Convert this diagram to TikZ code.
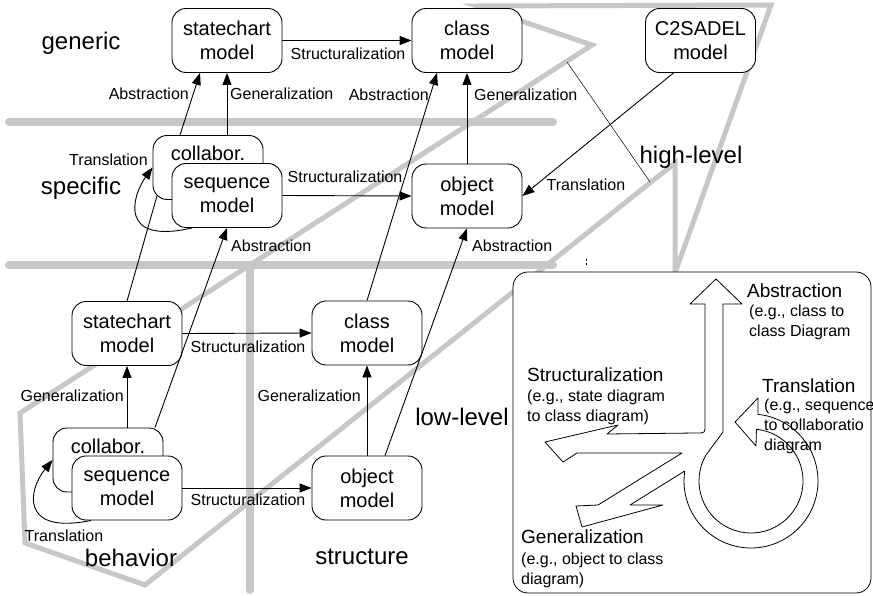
\documentclass[tikz,border=0pt]{standalone}
\usepackage{fontspec}
\setmainfont{Liberation Sans}
\usetikzlibrary{positioning,arrows.meta,calc}

\begin{document}
\begin{tikzpicture}[x=1pt, y=-1pt,
  model/.style={draw, fill=white, rounded corners=14pt, line width=0.9pt,
    minimum width=110pt, minimum height=64pt, align=center, inner sep=2pt,
    font=\fontsize{20}{24}\selectfont},
  lbl/.style={inner sep=0pt, font=\fontsize{16}{19}\selectfont},
  realm/.style={inner sep=0pt, font=\fontsize{24}{28}\selectfont},
  head/.style={inner sep=0pt, anchor=west, font=\fontsize{19}{22}\selectfont},
  note/.style={inner sep=0pt, anchor=west, align=left, font=\fontsize{16}{20}\selectfont},
  arr/.style={line width=0.9pt, -{Triangle[length=12pt, width=9pt]}},
  band/.style={line width=8pt, black!22, line cap=round},
  fold/.style={line width=5pt, black!22}]
\useasboundingbox (0,0) rectangle (873,596);
% layer bands
\draw[band] (9,122) -- (553,122);
\draw[band] (9,265) -- (553,265);
\draw[band] (250,265) -- (250,590);
% folded outline of high-level and low-level
\draw[fold] (477,6) -- (771,5) -- (675,273) -- (675,163) -- (145,585)
  -- (25,543) -- (20,413) -- (592,45) -- cycle;
% legend panel
\draw[fill=white, rounded corners=15pt, line width=0.8pt] (513,272) rectangle (871,593);
% region names
\node[realm] (generic) at (81,43) {generic};
\node[realm] (specific) at (81,188) {specific};
\node[realm] (behavior) at (131,558) {behavior};
\node[realm] (structure) at (362,557) {structure};
\node[realm] (highlevel) at (691,157) {high-level};
\node[realm] (lowlevel) at (462,417) {low-level};
% generic models
\node[model] (stG) at (227,40.5) {statechart\\model};
\node[model] (clG) at (467,40.5) {class\\model};
\node[model] (c2) at (700.5,40.5) {C2SADEL\\model};
% specific models
\node[model] (coS) at (208,167.5) {collabor.\\[4pt]\mbox{}};
\node[model] (sqS) at (227,195.5) {sequence\\model};
\node[model] (obS) at (467,196) {object\\model};
% low-level models
\node[model] (stL) at (127,333.5) {statechart\\model};
\node[model] (clL) at (367,333) {class\\model};
\node[model] (coL) at (108,460) {collabor.\\[4pt]\mbox{}};
\node[model] (sqL) at (127,488) {sequence\\model};
\node[model] (obL) at (367,488) {object\\model};
% refinements between generic and specific
\draw[arr] (stG.east) -- (clG.west);
\draw[arr] ([xshift=-28pt]coS.north) -- ([xshift=-27pt]stG.south);
\draw[arr] (coS.north -| stG.south) -- (stG.south);
\draw[arr] (sqS.east) -- (obS.west);
\draw[arr] (obS.north) -- (clG.south);
\draw[arr] (clL.north) -- ([xshift=-30pt]clG.south);
\draw[arr] ([xshift=-27pt]c2.south) -- (obS.east);
\draw[arr] ([xshift=18pt]obL.north) -- (obS.south);
\draw[line width=0.9pt] (stL.north) -- ([xshift=-51pt,yshift=4pt]coS.south);
\draw[arr] ([xshift=47pt]coL.north) -- (sqS.south);
\draw[arr] ([xshift=-35pt]sqS.south) .. controls (118,245) and (132,196) .. (coS.west);
% refinements at low level
\draw[arr] (stL.east) -- (clL.west);
\draw[arr] (coL.north -| stL.south) -- (stL.south);
\draw[arr] (obL.north) -- (clL.south);
\draw[arr] (sqL.east) -- (obL.west);
\draw[arr] ([xshift=-36pt]sqL.south) .. controls (20,535) and (28,490) .. (coL.west);
% stray marks
\coordinate (cutA) at (567,62);
\coordinate (cutB) at (650,182);
\draw[line width=0.5pt] (cutA) -- (cutB);
\coordinate (tickA) at (586,259);
\coordinate (tickB) at (586,267);
\draw[line width=0.5pt, dash pattern=on 2.5pt off 1.5pt] (tickA) -- (tickB);
% connector labels
\node[lbl] (s1) at (348,54) {Structuralization};
\node[lbl, anchor=east] (a1) at (189,94) {Abstraction};
\node[lbl, anchor=west] (g1) at (230,94) {Generalization};
\node[lbl, anchor=east] (a2) at (429,95) {Abstraction};
\node[lbl, anchor=west] (g2) at (474,95) {Generalization};
\node[lbl] (s2) at (345,177) {Structuralization};
\node[lbl] (t1) at (586,185) {Translation};
\node[lbl, anchor=east] (t2) at (148,160) {Translation};
\node[lbl, anchor=west] (a3) at (231,246) {Abstraction};
\node[lbl, anchor=west] (a4) at (472,246) {Abstraction};
\node[lbl] (s3) at (248,347) {Structuralization};
\node[lbl, anchor=east] (g3) at (124,396) {Generalization};
\node[lbl, anchor=east] (g4) at (361,396) {Generalization};
\node[lbl] (s4) at (248,500) {Structuralization};
\node[lbl] (t3) at (64,536) {Translation};
% hollow arrows of the legend
\coordinate (ring) at (751,481);
\draw[fill=white, line width=0.8pt, line join=round]
  (705,304) -- (690,304) -- (716,279) -- (742,304) -- (723,304) -- (723,432)
  -- ([shift={(150:52pt)}]ring) arc[start angle=150, end angle=444, radius=52pt]
  -- (756,446) -- (735,422) -- (758,398)
  -- ([shift={(84:67pt)}]ring) arc[start angle=84, end angle=-188.6, radius=67pt]
  -- (630,505) -- (663,505) -- (582,527) -- (576,506) -- (598,505)
  -- (682,453) -- (577,453) -- (563,462) -- (545,442) -- (618,425) -- (607,434)
  -- (697,433) .. controls (705,433) .. (705,425) -- cycle;
% legend texts
\node[head] (hA) at (747,291) {Abstraction};
\node[note] (nA) at (749,322) {(e.g., class to\\class Diagram};
\node[head] (hT) at (762,386) {Translation};
\node[note] (nT) at (764,426) {(e.g., sequence\\to collaboratio\\diagram};
\node[head] (hS) at (527,375) {Structuralization};
\node[note] (nS) at (527,407) {(e.g., state diagram\\to class diagram)};
\node[head] (hG) at (521,537) {Generalization};
\node[note] (nG) at (521,570) {(e.g., object to class\\diagram)};
\end{tikzpicture}
\end{document}
